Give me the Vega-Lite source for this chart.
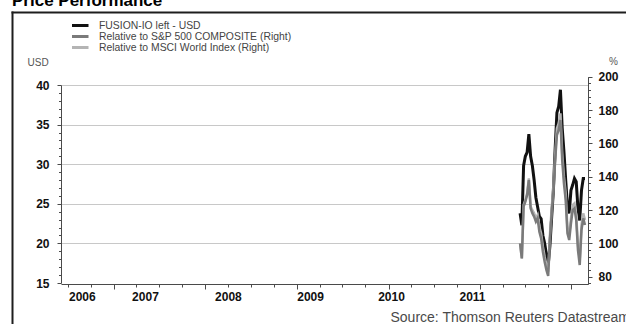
{
  "$schema": "https://vega.github.io/schema/vega-lite/v6.json",
  "width": 614,
  "height": 312,
  "autosize": {"type": "none"},
  "padding": {"left": 12, "top": 12, "right": 0, "bottom": 0},
  "background": "white",
  "config": {
    "font": "Liberation Sans",
    "view": {"stroke": null},
    "axis": {
      "domainColor": "#4a4a4a",
      "tickColor": "#4a4a4a",
      "labelColor": "#111111",
      "labelFontSize": 12,
      "labelFontWeight": "bold",
      "titleFontWeight": "normal",
      "titleColor": "#555555",
      "titleFontSize": 10,
      "labelFlush": false,
      "labelOverlap": false,
      "labelBound": false
    }
  },
  "title": {
    "text": "Price Performance",
    "anchor": "start",
    "frame": "group",
    "fontSize": 17,
    "fontWeight": "bold",
    "color": "#000000",
    "baseline": "alphabetic",
    "offset": -11
  },
  "data": {
    "values": [
      {"date": "2011-06-10", "fusion": 23.8, "sp": 100, "msci": 100},
      {"date": "2011-06-17", "fusion": 22.3, "sp": 91, "msci": 91},
      {"date": "2011-06-24", "fusion": 29.8, "sp": 122, "msci": 123},
      {"date": "2011-07-01", "fusion": 31.0, "sp": 125, "msci": 126},
      {"date": "2011-07-08", "fusion": 31.5, "sp": 129, "msci": 130},
      {"date": "2011-07-15", "fusion": 33.8, "sp": 138, "msci": 139},
      {"date": "2011-07-22", "fusion": 31.0, "sp": 121, "msci": 122},
      {"date": "2011-07-29", "fusion": 29.8, "sp": 118, "msci": 120},
      {"date": "2011-08-05", "fusion": 28.0, "sp": 116, "msci": 118},
      {"date": "2011-08-12", "fusion": 25.8, "sp": 113, "msci": 115},
      {"date": "2011-08-19", "fusion": 24.6, "sp": 115, "msci": 117},
      {"date": "2011-08-26", "fusion": 23.4, "sp": 107, "msci": 110},
      {"date": "2011-09-02", "fusion": 23.1, "sp": 103, "msci": 106},
      {"date": "2011-09-09", "fusion": 21.0, "sp": 95, "msci": 98},
      {"date": "2011-09-16", "fusion": 20.0, "sp": 89, "msci": 92},
      {"date": "2011-09-23", "fusion": 18.6, "sp": 84, "msci": 87},
      {"date": "2011-09-30", "fusion": 17.2, "sp": 80.5, "msci": 83},
      {"date": "2011-10-07", "fusion": 19.7, "sp": 102, "msci": 105},
      {"date": "2011-10-14", "fusion": 23.3, "sp": 118, "msci": 121},
      {"date": "2011-10-21", "fusion": 26.8, "sp": 131, "msci": 134},
      {"date": "2011-10-28", "fusion": 32.0, "sp": 150, "msci": 153},
      {"date": "2011-11-04", "fusion": 36.5, "sp": 165, "msci": 169},
      {"date": "2011-11-11", "fusion": 37.3, "sp": 168, "msci": 172},
      {"date": "2011-11-18", "fusion": 39.4, "sp": 174, "msci": 178},
      {"date": "2011-11-25", "fusion": 34.6, "sp": 150, "msci": 154},
      {"date": "2011-12-02", "fusion": 31.6, "sp": 136, "msci": 140},
      {"date": "2011-12-09", "fusion": 28.0, "sp": 126, "msci": 130},
      {"date": "2011-12-16", "fusion": 24.7, "sp": 106, "msci": 109},
      {"date": "2011-12-23", "fusion": 23.8, "sp": 102, "msci": 105},
      {"date": "2011-12-30", "fusion": 26.7, "sp": 112, "msci": 115},
      {"date": "2012-01-06", "fusion": 27.4, "sp": 120, "msci": 123},
      {"date": "2012-01-13", "fusion": 28.2, "sp": 121, "msci": 124},
      {"date": "2012-01-20", "fusion": 27.8, "sp": 114, "msci": 117},
      {"date": "2012-01-27", "fusion": 24.4, "sp": 96, "msci": 99},
      {"date": "2012-02-03", "fusion": 22.9, "sp": 87, "msci": 90},
      {"date": "2012-02-10", "fusion": 26.7, "sp": 108, "msci": 111},
      {"date": "2012-02-17", "fusion": 28.2, "sp": 115, "msci": 118},
      {"date": "2012-02-24", "fusion": 28.2, "sp": 111, "msci": 114}
    ],
    "format": {"parse": {"date": "utc:'%Y-%m-%d'"}}
  },
  "layer": [
    {
      "description": "Outer frame: only the axis domain lines of this layer are visible.",
      "mark": {"type": "point", "opacity": 0},
      "encoding": {
        "x": {
          "field": "date",
          "type": "temporal",
          "scale": {"type": "utc", "range": [-1, 660]},
          "axis": {"orient": "top", "offset": 0, "ticks": false, "labels": false, "grid": false, "title": null, "domainWidth": 2, "domainColor": "#1e1e1e", "domainCap": "butt"}
        },
        "y": {
          "field": "fusion",
          "type": "quantitative",
          "scale": {"range": [-1, 360], "zero": false},
          "axis": {"orient": "left", "offset": 0, "ticks": false, "labels": false, "grid": false, "title": null, "domainWidth": 2, "domainColor": "#1e1e1e", "domainCap": "butt"}
        }
      }
    },
    {
      "encoding": {
        "x": {
          "field": "date",
          "type": "temporal",
          "scale": {
            "type": "utc",
            "domain": [
              {"year": 2006, "month": 6, "date": 4, "utc": true},
              {"year": 2012, "month": 3, "date": 7, "utc": true}
            ],
            "range": [49, 576]
          },
          "axis": {
            "orient": "bottom",
            "offset": -40,
            "grid": false,
            "values": [
              {"year": 2006, "month": 7, "date": 1, "utc": true},
              {"year": 2006, "month": 10, "date": 1, "utc": true},
              {"year": 2007, "month": 1, "date": 1, "utc": true},
              {"year": 2007, "month": 4, "date": 1, "utc": true},
              {"year": 2007, "month": 7, "date": 1, "utc": true},
              {"year": 2007, "month": 10, "date": 1, "utc": true},
              {"year": 2008, "month": 1, "date": 1, "utc": true},
              {"year": 2008, "month": 4, "date": 1, "utc": true},
              {"year": 2008, "month": 7, "date": 1, "utc": true},
              {"year": 2008, "month": 10, "date": 1, "utc": true},
              {"year": 2009, "month": 1, "date": 1, "utc": true},
              {"year": 2009, "month": 4, "date": 1, "utc": true},
              {"year": 2009, "month": 7, "date": 1, "utc": true},
              {"year": 2009, "month": 10, "date": 1, "utc": true},
              {"year": 2010, "month": 1, "date": 1, "utc": true},
              {"year": 2010, "month": 4, "date": 1, "utc": true},
              {"year": 2010, "month": 7, "date": 1, "utc": true},
              {"year": 2010, "month": 10, "date": 1, "utc": true},
              {"year": 2011, "month": 1, "date": 1, "utc": true},
              {"year": 2011, "month": 4, "date": 1, "utc": true},
              {"year": 2011, "month": 7, "date": 1, "utc": true},
              {"year": 2011, "month": 10, "date": 1, "utc": true},
              {"year": 2012, "month": 1, "date": 1, "utc": true},
              {"year": 2006, "month": 8, "date": 26, "utc": true},
              {"year": 2007, "month": 5, "date": 5, "utc": true},
              {"year": 2008, "month": 3, "date": 31, "utc": true},
              {"year": 2009, "month": 2, "date": 22, "utc": true},
              {"year": 2010, "month": 1, "date": 11, "utc": true},
              {"year": 2010, "month": 11, "date": 30, "utc": true}
            ],
            "labelExpr": "utcdate(datum.value) == 1 ? '' : utcFormat(time(datum.value) + 3024000000, '%Y')",
            "tickSize": {"condition": {"test": "utcmonth(datum.value) == 0 && utcdate(datum.value) == 1", "value": 5}, "value": 3},
            "tickOpacity": {"condition": {"test": "utcdate(datum.value) != 1", "value": 0}, "value": 1},
            "labelPadding": 4,
            "title": "Source: Thomson Reuters Datastream",
            "titleX": 378,
            "titleY": 33,
            "titleAlign": "left",
            "titleAnchor": "start",
            "titleBaseline": "middle",
            "titleFontSize": 14,
            "titleColor": "#4a4a4a"
          }
        }
      },
      "layer": [
        {
          "mark": {"type": "line", "strokeWidth": 3},
          "encoding": {
            "y": {
              "field": "fusion",
              "type": "quantitative",
              "scale": {"domain": [15, 40], "range": [271, 73], "zero": false, "nice": false},
              "axis": {
                "orient": "left",
                "offset": -49,
                "values": [15, 16, 17, 18, 19, 20, 21, 22, 23, 24, 25, 26, 27, 28, 29, 30, 31, 32, 33, 34, 35, 36, 37, 38, 39, 40],
                "labelExpr": "datum.value % 5 == 0 ? datum.label : ''",
                "tickSize": {"condition": {"test": "datum.value % 5 == 0", "value": 4}, "value": 2.5},
                "labelPadding": 8,
                "grid": true,
                "gridColor": "#c8c8c8",
                "gridOpacity": {"condition": {"test": "datum.value % 5 == 0 && datum.value > 15", "value": 1}, "value": 0},
                "title": "USD",
                "titleAngle": 0,
                "titleAlign": "left",
                "titleBaseline": "middle",
                "titleX": -34,
                "titleY": 50
              }
            },
            "color": {
              "datum": "FUSION-IO left - USD",
              "type": "nominal",
              "scale": {
                "domain": ["FUSION-IO left - USD", "Relative to S&P 500 COMPOSITE (Right)", "Relative to MSCI World Index (Right)"],
                "range": ["#111111", "#7a7a7a", "#b4b4b4"]
              },
              "legend": {
                "title": null,
                "orient": "none",
                "legendX": 60,
                "legendY": 8.5,
                "symbolType": "M-2.75,0H2.75",
                "symbolSize": 64,
                "symbolStrokeWidth": 3,
                "labelFontSize": 10.4,
                "labelColor": "#444444",
                "labelOffset": 16,
                "labelLimit": 320,
                "clipHeight": 10,
                "rowPadding": 0,
                "padding": 0
              }
            }
          }
        },
        {
          "layer": [
            {
              "mark": {"type": "line", "strokeWidth": 2.5},
              "encoding": {
                "y": {
                  "field": "msci",
                  "type": "quantitative",
                  "scale": {"domain": [75.5, 200], "range": [272.2, 64.7], "zero": false, "nice": false},
                  "axis": {
                    "orient": "right",
                    "offset": -38,
                    "values": [76, 80, 84, 88, 92, 96, 100, 104, 108, 112, 116, 120, 124, 128, 132, 136, 140, 144, 148, 152, 156, 160, 164, 168, 172, 176, 180, 184, 188, 192, 196, 200],
                    "labelExpr": "datum.value % 20 == 0 ? datum.label : ''",
                    "tickSize": {"condition": {"test": "datum.value % 20 == 0", "value": 4}, "value": 2.5},
                    "labelPadding": 6,
                    "grid": false,
                    "title": "%",
                    "titleAngle": 0,
                    "titleAlign": "center",
                    "titleBaseline": "middle",
                    "titleX": 25,
                    "titleY": 49
                  }
                },
                "color": {"datum": "Relative to MSCI World Index (Right)", "type": "nominal"}
              }
            },
            {
              "mark": {"type": "line", "strokeWidth": 2.5},
              "encoding": {
                "y": {
                  "field": "sp",
                  "type": "quantitative",
                  "scale": {"domain": [75.5, 200], "range": [272.2, 64.7], "zero": false, "nice": false},
                  "axis": {
                    "orient": "right",
                    "offset": -38,
                    "values": [76, 80, 84, 88, 92, 96, 100, 104, 108, 112, 116, 120, 124, 128, 132, 136, 140, 144, 148, 152, 156, 160, 164, 168, 172, 176, 180, 184, 188, 192, 196, 200],
                    "labelExpr": "datum.value % 20 == 0 ? datum.label : ''",
                    "tickSize": {"condition": {"test": "datum.value % 20 == 0", "value": 4}, "value": 2.5},
                    "labelPadding": 6,
                    "grid": false,
                    "title": "%",
                    "titleAngle": 0,
                    "titleAlign": "center",
                    "titleBaseline": "middle",
                    "titleX": 25,
                    "titleY": 49
                  }
                },
                "color": {"datum": "Relative to S&P 500 COMPOSITE (Right)", "type": "nominal"}
              }
            }
          ]
        }
      ],
      "resolve": {"scale": {"y": "independent"}}
    }
  ],
  "resolve": {"scale": {"x": "independent", "y": "independent"}}
}
